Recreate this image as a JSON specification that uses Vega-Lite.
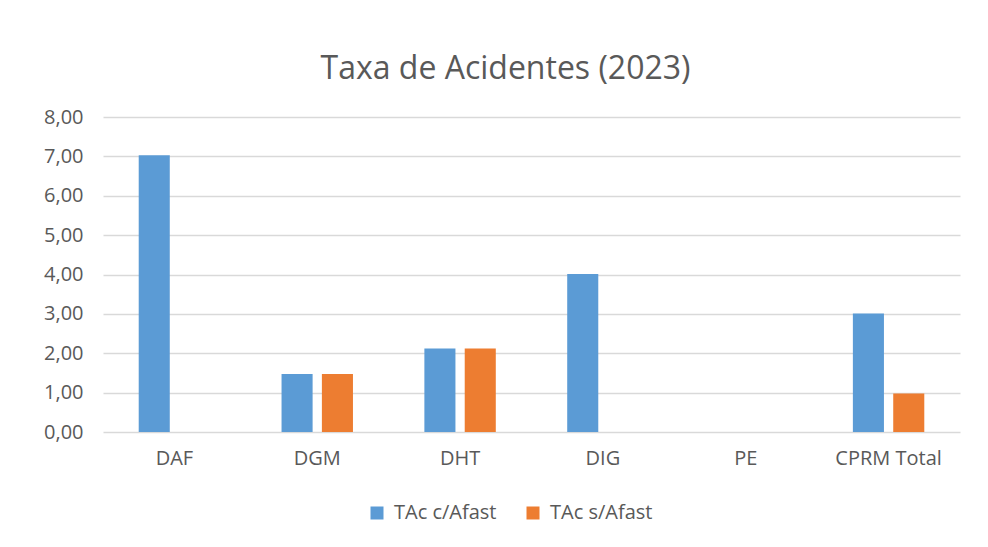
{
  "$schema": "https://vega.github.io/schema/vega-lite/v6.json",
  "autosize": "none",
  "width": 857,
  "height": 315,
  "padding": {"left": 103, "top": 117, "right": 28, "bottom": 115},
  "background": "white",
  "title": {
    "text": "Taxa de Acidentes (2023)",
    "font": "Open Sans",
    "fontSize": 32,
    "fontWeight": "normal",
    "color": "#595959",
    "anchor": "middle",
    "dx": -26,
    "offset": 21
  },
  "data": {
    "values": [
      {"unidade": "DAF", "serie": "TAc c/Afast", "taxa": 7.03},
      {"unidade": "DAF", "serie": "TAc s/Afast", "taxa": 0},
      {"unidade": "DGM", "serie": "TAc c/Afast", "taxa": 1.47},
      {"unidade": "DGM", "serie": "TAc s/Afast", "taxa": 1.47},
      {"unidade": "DHT", "serie": "TAc c/Afast", "taxa": 2.12},
      {"unidade": "DHT", "serie": "TAc s/Afast", "taxa": 2.12},
      {"unidade": "DIG", "serie": "TAc c/Afast", "taxa": 4.01},
      {"unidade": "DIG", "serie": "TAc s/Afast", "taxa": 0},
      {"unidade": "PE", "serie": "TAc c/Afast", "taxa": 0},
      {"unidade": "PE", "serie": "TAc s/Afast", "taxa": 0},
      {"unidade": "CPRM Total", "serie": "TAc c/Afast", "taxa": 3.01},
      {"unidade": "CPRM Total", "serie": "TAc s/Afast", "taxa": 0.98}
    ]
  },
  "mark": {"type": "bar"},
  "encoding": {
    "x": {
      "field": "unidade",
      "type": "nominal",
      "sort": null,
      "scale": {"paddingInner": 0.5, "paddingOuter": 0.25},
      "axis": {
        "title": null,
        "labelAngle": 0,
        "ticks": false,
        "domain": false,
        "labelPadding": 16,
        "labelFont": "Open Sans",
        "labelFontSize": 20,
        "labelColor": "#595959"
      }
    },
    "xOffset": {
      "field": "serie",
      "type": "nominal",
      "scale": {"paddingInner": 0.23, "paddingOuter": 0}
    },
    "y": {
      "field": "taxa",
      "type": "quantitative",
      "scale": {"domain": [0, 8], "nice": false},
      "axis": {
        "title": null,
        "values": [0, 1, 2, 3, 4, 5, 6, 7, 8],
        "labelExpr": "replace(format(datum.value, '.2f'), '.', ',')",
        "ticks": false,
        "domain": false,
        "labelPadding": 20,
        "labelFont": "Open Sans",
        "labelFontSize": 20,
        "labelColor": "#595959",
        "gridColor": "#d9d9d9",
        "gridWidth": 1.5
      }
    },
    "color": {
      "field": "serie",
      "type": "nominal",
      "scale": {"domain": ["TAc c/Afast", "TAc s/Afast"], "range": ["#5B9BD5", "#ED7D31"]},
      "legend": {
        "title": null,
        "orient": "none",
        "direction": "horizontal",
        "legendX": 264,
        "legendY": 386,
        "symbolType": "square",
        "symbolSize": 169,
        "symbolStrokeWidth": 0,
        "labelFont": "Open Sans",
        "labelFontSize": 20,
        "labelColor": "#595959",
        "labelOffset": 7,
        "columnPadding": 26
      }
    }
  },
  "config": {"view": {"stroke": null}}
}
